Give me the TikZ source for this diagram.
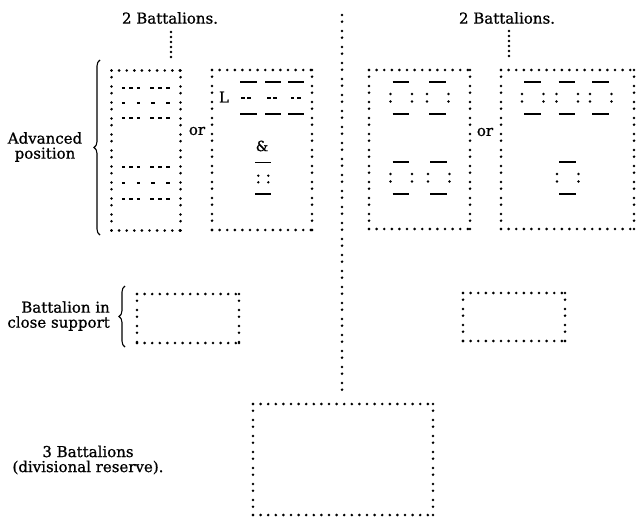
\documentclass[tikz,border=0pt]{standalone}
\usepackage{fontspec}
\setmainfont[FakeBold=0.8,AutoFakeBold=0.8]{DejaVu Serif}
\newfontfamily\txtfont[FakeBold=0.8]{DejaVu Serif}
\usetikzlibrary{decorations.pathreplacing}
\newcommand\mydot[2]{\fill (#1,#2) circle (1.35pt);}
\newcommand\mydsh[2]{\draw[line width=2.3pt] ({#1-1.6},#2) -- ({#1+1.6},#2);}
\newcommand\unitmk[2]{%
  \draw[bar] ({#1+2},#2) -- ({#1+18.5},#2);
  \draw[bar] ({#1+2},{#2+32}) -- ({#1+18.5},{#2+32});
  \foreach \dx in {0,21.5}{\foreach \dy in {12,19.5}{\fill ({#1+\dx},{#2+\dy}) circle (1.35pt);}}}
\newcommand\dotframe[1]{%
  \draw[hd] (#1.north west) -- (#1.north east);
  \draw[hd] (#1.south west) -- (#1.south east);
  \draw[vd] (#1.north west) -- (#1.south west);
  \draw[vd] (#1.north east) -- (#1.south east);
  \fill (#1.south east) circle (1.45pt);
  \fill (#1.south west) circle (1.45pt);}
\begin{document}
\begin{tikzpicture}[x=1pt,y=-1pt,
  hd/.style={line width=2.9pt,line cap=round,dash pattern=on 0pt off 7.6pt},
  vd/.style={line width=2.9pt,line cap=round,dash pattern=on 0pt off 6.7pt on 0pt off 9.3pt},
  sd/.style={line width=2.9pt,line cap=round,dash pattern=on 0pt off 5pt},
  frame/.style={inner sep=0pt,outer sep=0pt},
  lbl/.style={font=\txtfont\fontsize{15}{15}\selectfont,inner sep=0pt},
  bar/.style={line width=1.5pt},
  brc/.style={line width=1.1pt,decorate,decoration={brace,amplitude=6pt}},
]
\useasboundingbox (0,0) rectangle (636,519);

% labels
\node[lbl] (lt) at (170,18) {2 Battalions.};
\node[lbl] (rt) at (507,18) {2 Battalions.};
\node[lbl,align=center] (adv) at (45,147) {Advanced\\position};
\node[lbl,align=right,anchor=east] (sup) at (110,316) {Battalion in\\close support};
\node[lbl,align=center] (res) at (88,460) {3 Battalions\\(divisional reserve).};
\node[lbl] (or1) at (197,131) {or};
\node[lbl] (or2) at (485,132) {or};

% frames
\node[frame,minimum width=69pt,minimum height=160pt] (a1) at (146,150.5) {};
\node[frame,minimum width=100pt,minimum height=160pt] (a2) at (262,150) {};
\node[frame,minimum width=101pt,minimum height=159pt] (b1) at (419.5,149.5) {};
\node[frame,minimum width=133pt,minimum height=159pt] (b2) at (567.5,149.5) {};
\node[frame,minimum width=102pt,minimum height=49pt] (c1) at (188,318.5) {};
\node[frame,minimum width=102pt,minimum height=48pt] (c2) at (514,317) {};
\node[frame,minimum width=180pt,minimum height=111pt] (d1) at (343,459.5) {};
\foreach \n in {a1,a2,b1,b2,c1,c2,d1}{\dotframe{\n}}

% short dotted lines and centre line
\coordinate (lt1) at (171,32); \coordinate (lt2) at (171,57);
\coordinate (rt1) at (509,31); \coordinate (rt2) at (509,56);
\draw[sd] (lt1) -- (lt2);
\draw[sd] (rt1) -- (rt2);
\coordinate (ctop) at (342,15); \coordinate (cbot) at (342,390);
\draw[vd] (ctop) -- (cbot);

% braces
\coordinate (br1a) at (100,235); \coordinate (br1b) at (100,60);
\draw[brc] (br1a) -- (br1b);
\coordinate (br2a) at (125,347); \coordinate (br2b) at (125,286);
\draw[brc] (br2a) -- (br2b);

% contents of a1
\foreach \y in {88,118,167,199}{\foreach \x in {123.5,131,138.5,152,160,168}{\mydsh{\x}{\y}}}
\foreach \y in {103,183}{\foreach \x in {123.5,138.5,153,168}{\mydsh{\x}{\y}}}

% contents of a2
\node[lbl] (L) at (224,97) {L};
\foreach \xa/\xb in {240/257,265/281,288/304}{
  \draw[bar] (\xa,82) -- (\xb,82);
  \draw[bar] (\xa,114) -- (\xb,114);}
\foreach \x in {243,249,269,275,292.5,299}{\mydsh{\x}{98}}
\node[lbl,font=\txtfont\fontsize{14}{14}\selectfont] (amp) at (262,146) {\&};
\draw[bar] (255,162.5) -- (271,162.5);
\draw[bar] (255,194) -- (271,194);
\mydot{258.3}{175.7}\mydot{268.3}{175.7}\mydot{258.3}{182.3}\mydot{268.3}{182.3}

% contents of b1
\unitmk{390.5}{82}\unitmk{427}{82}
\unitmk{390.5}{162}\unitmk{428}{162}
% contents of b2
\unitmk{522}{82}\unitmk{556.5}{82}\unitmk{590}{82}
\unitmk{557}{162}
\end{tikzpicture}
\end{document}
